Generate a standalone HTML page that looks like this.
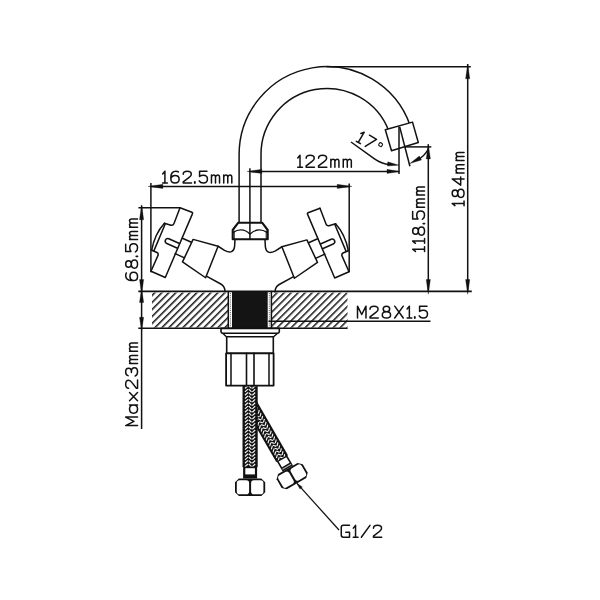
<!DOCTYPE html>
<html><head><meta charset="utf-8"><title>Faucet dimensions</title>
<style>
html,body{margin:0;padding:0;background:#fff;}
svg{display:block}
text{font-family:"Liberation Sans",sans-serif;fill:#161616;}
</style></head>
<body>
<svg width="600" height="600" viewBox="0 0 600 600">
<defs>
<pattern id="hatchL" width="4.95" height="4.95" patternUnits="userSpaceOnUse" patternTransform="translate(5.44,0) rotate(45)">
<rect x="0" y="0" width="1.5" height="4.95" fill="#111"/>
</pattern>
<pattern id="hatchR" width="4.95" height="4.95" patternUnits="userSpaceOnUse" patternTransform="translate(1.69,0) rotate(45)">
<rect x="0" y="0" width="1.5" height="4.95" fill="#111"/>
</pattern>
<pattern id="braid" width="14.6" height="2.5" patternUnits="userSpaceOnUse" patternTransform="translate(-7.3,0.6)">
<rect x="0" y="0" width="14.6" height="2.5" fill="#151515"/>
<path d="M2.2,2.9 L5.2,0.5 M2.2,5.4 L5.2,3.0 M2.2,0.4 L5.2,-2 M5.9,0.5 L8.7,2.9 M5.9,-2 L8.7,0.4 M5.9,3 L8.7,5.4 M9.4,2.9 L12.4,0.5 M9.4,5.4 L12.4,3 M9.4,0.4 L12.4,-2" stroke="#ececec" stroke-width="1.0" stroke-linecap="butt" fill="none"/>
</pattern>
<pattern id="braid2" width="13" height="2.5" patternUnits="userSpaceOnUse" patternTransform="translate(-6.5,0)">
<rect x="0" y="0" width="13" height="2.5" fill="#151515"/>
<path d="M1.9,2.9 L4.6,0.5 M1.9,5.4 L4.6,3.0 M1.9,0.4 L4.6,-2 M5.2,0.5 L7.8,2.9 M5.2,-2 L7.8,0.4 M5.2,3 L7.8,5.4 M8.4,2.9 L11.1,0.5 M8.4,5.4 L11.1,3 M8.4,0.4 L11.1,-2" stroke="#ececec" stroke-width="1.0" stroke-linecap="butt" fill="none"/>
</pattern>
<g id="hoseend">
<rect x="-7" y="0" width="14" height="11.8" fill="#111"/>
<rect x="-4.8" y="1.5" width="9.6" height="6.2" fill="#fff"/>
<use href="#hnut"/>
</g>
<g id="hoseend2">
<rect x="-6" y="0" width="12" height="11.8" fill="#111"/>
<rect x="-4.4" y="1.2" width="8.8" height="6.6" fill="#fff"/>
<rect x="-5" y="9.3" width="10" height="0.9" fill="#bbb"/>
<use href="#hnut"/>
</g>
<g id="hnut">
<path d="M-11.2,11.8 H11.2 L15.1,15.6 V25.5 L11.2,29.3 H-11.2 L-15.1,25.5 V15.6 Z" fill="#111"/>
<rect x="-13.3" y="13.6" width="12.3" height="13.9" rx="2.8" ry="2.8" fill="#fff"/>
<rect x="1" y="13.6" width="12.3" height="13.9" rx="2.8" ry="2.8" fill="#fff"/>
</g>

<g id="lefthalf" fill="none" stroke="#111111" stroke-width="1.5" stroke-linejoin="round" stroke-linecap="round"><path d="M180,207.75 L191.9,212.3 Q193,212.8 192.4,213.9 L165.3,277.5 L151,271.2 L158,255.4 Q158.7,253.4 157,252.5 L151.7,250.2" />
<path d="M180,207.75 L174,223.4 Q173.2,225.7 171,225.3 L164.4,223.3" />
<path d="M164.4,223.3 Q154.7,234 151.7,250.2" />
<path d="M165.2,224 L153.9,250.9" />
<path d="M179.5,243.5 L168.8,238.8 A2.55,2.55 0 0 0 166.8,243.5 L177.5,248.2" />
<path d="M182.4,238.2 L191.4,242.2 M175.2,253.6 L184.4,257.9" />
<path d="M193.1,239.4 L218.1,246.25 L205.6,277.75 L182.5,261.9 Z" />
<path d="M218.1,246.25 L224.5,250.3 Q233.6,254.8 234.6,246.5 L235,239.4" />
<path d="M206.4,276.2 L220.8,284 Q225,286.5 225,291.5" /></g>
</defs>
<rect x="0" y="0" width="600" height="600" fill="#fff"/>
<rect x="152" y="292.6" width="76.3" height="35" fill="url(#hatchL)"/>
<rect x="271.5" y="292.6" width="76" height="35" fill="url(#hatchR)"/>
<g transform="translate(281.9,458.3) rotate(-30)">
<rect x="-6.8" y="-63" width="13.6" height="63.4" fill="#121212"/>
<clipPath id="cp136"><rect x="-5" y="-63" width="10" height="63.4"/></clipPath>
<path clip-path="url(#cp136)" d="M-4.70,-60.65 L-1.95,-63.35 M-1.20,-63.35 L1.20,-60.65 M1.95,-60.65 L4.60,-63.35 M-4.70,-57.25 L-1.95,-59.95 M-1.20,-59.95 L1.20,-57.25 M1.95,-57.25 L4.60,-59.95 M-4.70,-53.85 L-1.95,-56.55 M-1.20,-56.55 L1.20,-53.85 M1.95,-53.85 L4.60,-56.55 M-4.70,-50.45 L-1.95,-53.15 M-1.20,-53.15 L1.20,-50.45 M1.95,-50.45 L4.60,-53.15 M-4.70,-47.05 L-1.95,-49.75 M-1.20,-49.75 L1.20,-47.05 M1.95,-47.05 L4.60,-49.75 M-4.70,-43.65 L-1.95,-46.35 M-1.20,-46.35 L1.20,-43.65 M1.95,-43.65 L4.60,-46.35 M-4.70,-40.25 L-1.95,-42.95 M-1.20,-42.95 L1.20,-40.25 M1.95,-40.25 L4.60,-42.95 M-4.70,-36.85 L-1.95,-39.55 M-1.20,-39.55 L1.20,-36.85 M1.95,-36.85 L4.60,-39.55 M-4.70,-33.45 L-1.95,-36.15 M-1.20,-36.15 L1.20,-33.45 M1.95,-33.45 L4.60,-36.15 M-4.70,-30.05 L-1.95,-32.75 M-1.20,-32.75 L1.20,-30.05 M1.95,-30.05 L4.60,-32.75 M-4.70,-26.65 L-1.95,-29.35 M-1.20,-29.35 L1.20,-26.65 M1.95,-26.65 L4.60,-29.35 M-4.70,-23.25 L-1.95,-25.95 M-1.20,-25.95 L1.20,-23.25 M1.95,-23.25 L4.60,-25.95 M-4.70,-19.85 L-1.95,-22.55 M-1.20,-22.55 L1.20,-19.85 M1.95,-19.85 L4.60,-22.55 M-4.70,-16.45 L-1.95,-19.15 M-1.20,-19.15 L1.20,-16.45 M1.95,-16.45 L4.60,-19.15 M-4.70,-13.05 L-1.95,-15.75 M-1.20,-15.75 L1.20,-13.05 M1.95,-13.05 L4.60,-15.75 M-4.70,-9.65 L-1.95,-12.35 M-1.20,-12.35 L1.20,-9.65 M1.95,-9.65 L4.60,-12.35 M-4.70,-6.25 L-1.95,-8.95 M-1.20,-8.95 L1.20,-6.25 M1.95,-6.25 L4.60,-8.95 M-4.70,-2.85 L-1.95,-5.55 M-1.20,-5.55 L1.20,-2.85 M1.95,-2.85 L4.60,-5.55 M-4.70,0.55 L-1.95,-2.15 M-1.20,-2.15 L1.20,0.55 M1.95,0.55 L4.60,-2.15" stroke="#f2f2f2" stroke-width="1.2" fill="none" stroke-linecap="butt"/>
<use href="#hoseend2"/>
</g>
<g transform="translate(250.1,466.7)">
<rect x="-7.6" y="-80.6" width="15.2" height="81" fill="#121212"/>
<clipPath id="cp152"><rect x="-5.8" y="-80.6" width="11.6" height="81"/></clipPath>
<path clip-path="url(#cp152)" d="M-5.20,-78.25 L-2.15,-80.95 M-1.30,-80.95 L1.40,-78.25 M2.25,-78.25 L5.10,-80.95 M-5.20,-74.85 L-2.15,-77.55 M-1.30,-77.55 L1.40,-74.85 M2.25,-74.85 L5.10,-77.55 M-5.20,-71.45 L-2.15,-74.15 M-1.30,-74.15 L1.40,-71.45 M2.25,-71.45 L5.10,-74.15 M-5.20,-68.05 L-2.15,-70.75 M-1.30,-70.75 L1.40,-68.05 M2.25,-68.05 L5.10,-70.75 M-5.20,-64.65 L-2.15,-67.35 M-1.30,-67.35 L1.40,-64.65 M2.25,-64.65 L5.10,-67.35 M-5.20,-61.25 L-2.15,-63.95 M-1.30,-63.95 L1.40,-61.25 M2.25,-61.25 L5.10,-63.95 M-5.20,-57.85 L-2.15,-60.55 M-1.30,-60.55 L1.40,-57.85 M2.25,-57.85 L5.10,-60.55 M-5.20,-54.45 L-2.15,-57.15 M-1.30,-57.15 L1.40,-54.45 M2.25,-54.45 L5.10,-57.15 M-5.20,-51.05 L-2.15,-53.75 M-1.30,-53.75 L1.40,-51.05 M2.25,-51.05 L5.10,-53.75 M-5.20,-47.65 L-2.15,-50.35 M-1.30,-50.35 L1.40,-47.65 M2.25,-47.65 L5.10,-50.35 M-5.20,-44.25 L-2.15,-46.95 M-1.30,-46.95 L1.40,-44.25 M2.25,-44.25 L5.10,-46.95 M-5.20,-40.85 L-2.15,-43.55 M-1.30,-43.55 L1.40,-40.85 M2.25,-40.85 L5.10,-43.55 M-5.20,-37.45 L-2.15,-40.15 M-1.30,-40.15 L1.40,-37.45 M2.25,-37.45 L5.10,-40.15 M-5.20,-34.05 L-2.15,-36.75 M-1.30,-36.75 L1.40,-34.05 M2.25,-34.05 L5.10,-36.75 M-5.20,-30.65 L-2.15,-33.35 M-1.30,-33.35 L1.40,-30.65 M2.25,-30.65 L5.10,-33.35 M-5.20,-27.25 L-2.15,-29.95 M-1.30,-29.95 L1.40,-27.25 M2.25,-27.25 L5.10,-29.95 M-5.20,-23.85 L-2.15,-26.55 M-1.30,-26.55 L1.40,-23.85 M2.25,-23.85 L5.10,-26.55 M-5.20,-20.45 L-2.15,-23.15 M-1.30,-23.15 L1.40,-20.45 M2.25,-20.45 L5.10,-23.15 M-5.20,-17.05 L-2.15,-19.75 M-1.30,-19.75 L1.40,-17.05 M2.25,-17.05 L5.10,-19.75 M-5.20,-13.65 L-2.15,-16.35 M-1.30,-16.35 L1.40,-13.65 M2.25,-13.65 L5.10,-16.35 M-5.20,-10.25 L-2.15,-12.95 M-1.30,-12.95 L1.40,-10.25 M2.25,-10.25 L5.10,-12.95 M-5.20,-6.85 L-2.15,-9.55 M-1.30,-9.55 L1.40,-6.85 M2.25,-6.85 L5.10,-9.55 M-5.20,-3.45 L-2.15,-6.15 M-1.30,-6.15 L1.40,-3.45 M2.25,-3.45 L5.10,-6.15 M-5.20,-0.05 L-2.15,-2.75 M-1.30,-2.75 L1.40,-0.05 M2.25,-0.05 L5.10,-2.75" stroke="#f2f2f2" stroke-width="1.2" fill="none" stroke-linecap="butt"/>
<use href="#hoseend"/>
</g>
<g fill="none" stroke="#111111" stroke-width="1.5" stroke-linejoin="round" stroke-linecap="round">
<use href="#lefthalf"/>
<use href="#lefthalf" transform="translate(500.0,0.5) scale(-1,1)"/>
<path d="M239.10,222.5 V154.60 A88,88 0 0 1 410.05,125.22"/>
<path d="M261.00,222.5 V154.60 A66.1,66.1 0 0 1 388.81,130.91"/>
<path d="M385.3,129.7 L412.5,122.1 L418.3,142.5 L391.5,150.7 Z" fill="#fff"/>
<path d="M232.7,239.2 V230 L238.3,222.7 H262.1 L267.7,230 V239.2 Z" stroke-width="2.1"/>
<path d="M233.5,232.3 C237.5,229.3 244.5,228.3 249.8,234 M266.7,232.3 C262.7,229.3 255.7,228.3 250.2,234" stroke-width="1.3"/>
<path d="M234.2,231 V239 M266.2,231 V239" stroke-width="1"/>
<path d="M221,328.4 H279.3 V331.6 Q279.2,333.2 277.3,333.2 H223 Q221.1,333.2 221,331.6 Z" stroke-width="1.6" fill="#fff"/>
<path d="M223,333.4 L226.4,336.7 H273.6 L277.3,333.4" stroke-width="1.4"/>
<rect x="226.7" y="336.7" width="46.6" height="16.7" stroke-width="1.6" fill="#fff"/>
<rect x="226.1" y="353.4" width="47.5" height="32.2" stroke-width="1.8" fill="#fff"/>
<path d="M231,353.4 V385.6 M269,353.4 V385.6" stroke-width="1.5"/><path d="M246.5,353.4 V385.6 M254,353.4 V385.6" stroke-width="1.6"/>
<path d="M228.3,291.5 V328.3 M271.4,291.5 V328.3" stroke-width="1.5"/>
</g>
<rect x="232" y="291.5" width="35.7" height="36.8" fill="#141414"/>
<path d="M230.4,293 V327.5 M269.3,293 V327.5" stroke="#555" stroke-width="1.0" stroke-dasharray="0.9,1.0" fill="none"/>
<g fill="none" stroke="#111111" stroke-width="1.5" stroke-linecap="butt">
<path d="M326.5,66.8 H470.8"/>
<path d="M467.7,64 V291.5"/>
<path d="M428.3,144.3 V291.5"/>
<path d="M404.7,146.9 H431.3"/>
<path d="M138.3,291.4 H471.8" stroke-width="1.6"/>
<path d="M138.3,328.3 H347.6" stroke-width="1.6"/>
<path d="M141.6,205.5 V429"/>
<path d="M138.4,207.7 H180"/>
<path d="M150.9,183 V272.3"/>
<path d="M150.9,186.4 H349.2"/>
<path d="M349.2,183.5 V272.3"/>
<path d="M249.6,171.4 H399.2"/>
<path d="M249.9,168.3 V239.4"/>
<path d="M399,126.5 V174" stroke-width="1.5"/>
<path d="M399.7,126.9 L409.9,166.2"/>
<path d="M268.5,321.3 H430.5"/>
<path d="M351,142 L374.5,158.8 Q381.5,163.8 389.5,164.6"/>
<path d="M418,159.6 Q424.6,156 428.3,149"/>
<path d="M297,483.4 L339,530" stroke-width="1.25"/>
</g>
<polygon points="467.70,64.00 469.80,78.80 465.60,78.80" fill="#111111" stroke="#111111" stroke-width="0.3"/>
<polygon points="467.70,294.30 465.60,279.50 469.80,279.50" fill="#111111" stroke="#111111" stroke-width="0.3"/>
<polygon points="428.30,144.10 430.40,158.90 426.20,158.90" fill="#111111" stroke="#111111" stroke-width="0.3"/>
<polygon points="428.30,294.30 426.20,279.50 430.40,279.50" fill="#111111" stroke="#111111" stroke-width="0.3"/>
<polygon points="141.60,204.90 143.70,219.70 139.50,219.70" fill="#111111" stroke="#111111" stroke-width="0.3"/>
<polygon points="141.60,294.30 139.50,279.50 143.70,279.50" fill="#111111" stroke="#111111" stroke-width="0.3"/>
<polygon points="141.60,288.70 143.70,302.50 139.50,302.50" fill="#111111" stroke="#111111" stroke-width="0.3"/>
<polygon points="141.60,331.10 139.50,317.30 143.70,317.30" fill="#111111" stroke="#111111" stroke-width="0.3"/>
<polygon points="148.10,186.40 162.90,184.30 162.90,188.50" fill="#111111" stroke="#111111" stroke-width="0.3"/>
<polygon points="352.00,186.40 337.20,188.50 337.20,184.30" fill="#111111" stroke="#111111" stroke-width="0.3"/>
<polygon points="247.10,171.40 261.90,169.30 261.90,173.50" fill="#111111" stroke="#111111" stroke-width="0.3"/>
<polygon points="399.50,171.40 387.00,173.50 387.00,169.30" fill="#111111" stroke="#111111" stroke-width="0.3"/>
<polygon points="399.00,165.15 387.34,166.04 387.78,161.86" fill="#111111" stroke="#111111" stroke-width="0.3"/>
<polygon points="409.80,163.60 419.36,156.02 421.43,159.91" fill="#111111" stroke="#111111" stroke-width="0.3"/>
<polygon points="296.80,483.20 302.34,486.96 299.96,489.10" fill="#111111" stroke="#111111" stroke-width="0.3"/>
<g transform="translate(161.9,183.8) rotate(0)" fill="none" stroke="#111111" stroke-width="1.5" stroke-linecap="round" stroke-linejoin="round">
<path transform="translate(0.75,-12.63) scale(0.985,0.99)" vector-effect="non-scaling-stroke" stroke-width="1.5" d="M0,2.8 L2.3,0 V12 M0,12 H4.8"/>
<path transform="translate(8.97,-12.63) scale(0.985,0.99)" vector-effect="non-scaling-stroke" stroke-width="1.5" d="M7.7,0.7 C6.9,0.2 6.1,0 5.1,0 C2,0 0,2.5 0,6.5 V8 C0,10.4 1.7,12 4.2,12 C6.7,12 8.4,10.4 8.4,8 C8.4,5.7 6.7,4.3 4.2,4.3 C2,4.3 0.4,5.6 0,7.5"/>
<path transform="translate(21.24,-12.63) scale(0.985,0.99)" vector-effect="non-scaling-stroke" stroke-width="1.5" d="M0.1,3 C0.1,1 1.6,0 4.2,0 C6.8,0 8.3,1 8.3,3 C8.3,4.4 7.6,5.2 6.1,6.2 L0.1,10.8 V12 H8.5"/>
<path transform="translate(33.52,-12.63) scale(0.985,0.99)" vector-effect="non-scaling-stroke" stroke-width="1.9" d="M-0.6,10.8 V11.9"/>
<path transform="translate(37.28,-12.63) scale(0.985,0.99)" vector-effect="non-scaling-stroke" stroke-width="1.5" d="M7.9,0 H0.4 V5.3 C1.6,4.4 2.9,4.1 4.2,4.1 C6.8,4.1 8.4,5.7 8.4,8 C8.4,10.4 6.8,12 4.2,12 C2.2,12 0.7,11.2 0,9.8"/>
<path transform="translate(49.56,-12.63) scale(0.985,0.99)" vector-effect="non-scaling-stroke" stroke-width="1.5" d="M0,12 V3.9 M0,6 C0.3,4.6 1.2,3.9 2.25,3.9 C3.4,3.9 4.1,4.7 4.1,6.1 V12 M4.1,6.1 C4.4,4.6 5.3,3.9 6.35,3.9 C7.5,3.9 8.2,4.7 8.2,6.1 V12"/>
<path transform="translate(61.83,-12.63) scale(0.985,0.99)" vector-effect="non-scaling-stroke" stroke-width="1.5" d="M0,12 V3.9 M0,6 C0.3,4.6 1.2,3.9 2.25,3.9 C3.4,3.9 4.1,4.7 4.1,6.1 V12 M4.1,6.1 C4.4,4.6 5.3,3.9 6.35,3.9 C7.5,3.9 8.2,4.7 8.2,6.1 V12"/>
</g>
<g transform="translate(297,167.9) rotate(0)" fill="none" stroke="#111111" stroke-width="1.5" stroke-linecap="round" stroke-linejoin="round">
<path transform="translate(0.75,-12.63) scale(0.985,0.99)" vector-effect="non-scaling-stroke" stroke-width="1.5" d="M0,2.8 L2.3,0 V12 M0,12 H4.8"/>
<path transform="translate(9.05,-12.63) scale(0.985,0.99)" vector-effect="non-scaling-stroke" stroke-width="1.5" d="M0.1,3 C0.1,1 1.6,0 4.2,0 C6.8,0 8.3,1 8.3,3 C8.3,4.4 7.6,5.2 6.1,6.2 L0.1,10.8 V12 H8.5"/>
<path transform="translate(21.45,-12.63) scale(0.985,0.99)" vector-effect="non-scaling-stroke" stroke-width="1.5" d="M0.1,3 C0.1,1 1.6,0 4.2,0 C6.8,0 8.3,1 8.3,3 C8.3,4.4 7.6,5.2 6.1,6.2 L0.1,10.8 V12 H8.5"/>
<path transform="translate(33.85,-12.63) scale(0.985,0.99)" vector-effect="non-scaling-stroke" stroke-width="1.5" d="M0,12 V3.9 M0,6 C0.3,4.6 1.2,3.9 2.25,3.9 C3.4,3.9 4.1,4.7 4.1,6.1 V12 M4.1,6.1 C4.4,4.6 5.3,3.9 6.35,3.9 C7.5,3.9 8.2,4.7 8.2,6.1 V12"/>
<path transform="translate(46.25,-12.63) scale(0.985,0.99)" vector-effect="non-scaling-stroke" stroke-width="1.5" d="M0,12 V3.9 M0,6 C0.3,4.6 1.2,3.9 2.25,3.9 C3.4,3.9 4.1,4.7 4.1,6.1 V12 M4.1,6.1 C4.4,4.6 5.3,3.9 6.35,3.9 C7.5,3.9 8.2,4.7 8.2,6.1 V12"/>
</g>
<g transform="translate(356.75,318.8) rotate(0)" fill="none" stroke="#111111" stroke-width="1.5" stroke-linecap="round" stroke-linejoin="round">
<path transform="translate(0.75,-12.63) scale(0.985,0.99)" vector-effect="non-scaling-stroke" stroke-width="1.5" d="M0,12 V0 L4.3,8.4 L8.6,0 V12"/>
<path transform="translate(13.15,-12.63) scale(0.985,0.99)" vector-effect="non-scaling-stroke" stroke-width="1.5" d="M0.1,3 C0.1,1 1.6,0 4.2,0 C6.8,0 8.3,1 8.3,3 C8.3,4.4 7.6,5.2 6.1,6.2 L0.1,10.8 V12 H8.5"/>
<path transform="translate(25.55,-12.63) scale(0.985,0.99)" vector-effect="non-scaling-stroke" stroke-width="1.5" d="M4.2,0 C6.2,0 7.5,1.2 7.5,2.9 C7.5,4.6 6.2,5.7 4.2,5.7 C2.2,5.7 0.9,4.6 0.9,2.9 C0.9,1.2 2.2,0 4.2,0 Z M4.2,5.7 C6.8,5.7 8.4,6.9 8.4,8.9 C8.4,10.8 6.8,12 4.2,12 C1.6,12 0,10.8 0,8.9 C0,6.9 1.6,5.7 4.2,5.7 Z"/>
<path transform="translate(37.95,-12.63) scale(0.985,0.99)" vector-effect="non-scaling-stroke" stroke-width="1.5" d="M0,0 L8.7,12 M8.7,0 L0,12"/>
<path transform="translate(50.35,-12.63) scale(0.985,0.99)" vector-effect="non-scaling-stroke" stroke-width="1.5" d="M0,2.8 L2.3,0 V12 M0,12 H4.8"/>
<path transform="translate(58.65,-12.63) scale(0.985,0.99)" vector-effect="non-scaling-stroke" stroke-width="1.9" d="M-0.6,10.8 V11.9"/>
<path transform="translate(62.45,-12.63) scale(0.985,0.99)" vector-effect="non-scaling-stroke" stroke-width="1.5" d="M7.9,0 H0.4 V5.3 C1.6,4.4 2.9,4.1 4.2,4.1 C6.8,4.1 8.4,5.7 8.4,8 C8.4,10.4 6.8,12 4.2,12 C2.2,12 0.7,11.2 0,9.8"/>
</g>
<g transform="translate(340.5,538) rotate(0)" fill="none" stroke="#111111" stroke-width="1.5" stroke-linecap="round" stroke-linejoin="round">
<path transform="translate(0.75,-12.63) scale(0.985,0.99)" vector-effect="non-scaling-stroke" stroke-width="1.5" d="M8.4,0 H2.2 Q0,0 0,2.2 V9.8 Q0,12 2.2,12 H8.4 V7 H4.6"/>
<path transform="translate(12.78,-12.63) scale(0.985,0.99)" vector-effect="non-scaling-stroke" stroke-width="1.5" d="M0,2.8 L2.3,0 V12 M0,12 H4.8"/>
<path transform="translate(20.83,-12.63) scale(0.985,0.99)" vector-effect="non-scaling-stroke" stroke-width="1.5" d="M0,12 L8.8,0"/>
<path transform="translate(32.86,-12.63) scale(0.985,0.99)" vector-effect="non-scaling-stroke" stroke-width="1.5" d="M0.1,3 C0.1,1 1.6,0 4.2,0 C6.8,0 8.3,1 8.3,3 C8.3,4.4 7.6,5.2 6.1,6.2 L0.1,10.8 V12 H8.5"/>
</g>
<g transform="translate(138.3,281.3) rotate(-90)" fill="none" stroke="#111111" stroke-width="1.5" stroke-linecap="round" stroke-linejoin="round">
<path transform="translate(0.75,-12.63) scale(0.985,0.99)" vector-effect="non-scaling-stroke" stroke-width="1.5" d="M7.7,0.7 C6.9,0.2 6.1,0 5.1,0 C2,0 0,2.5 0,6.5 V8 C0,10.4 1.7,12 4.2,12 C6.7,12 8.4,10.4 8.4,8 C8.4,5.7 6.7,4.3 4.2,4.3 C2,4.3 0.4,5.6 0,7.5"/>
<path transform="translate(13.15,-12.63) scale(0.985,0.99)" vector-effect="non-scaling-stroke" stroke-width="1.5" d="M4.2,0 C6.2,0 7.5,1.2 7.5,2.9 C7.5,4.6 6.2,5.7 4.2,5.7 C2.2,5.7 0.9,4.6 0.9,2.9 C0.9,1.2 2.2,0 4.2,0 Z M4.2,5.7 C6.8,5.7 8.4,6.9 8.4,8.9 C8.4,10.8 6.8,12 4.2,12 C1.6,12 0,10.8 0,8.9 C0,6.9 1.6,5.7 4.2,5.7 Z"/>
<path transform="translate(25.55,-12.63) scale(0.985,0.99)" vector-effect="non-scaling-stroke" stroke-width="1.9" d="M-0.6,10.8 V11.9"/>
<path transform="translate(29.35,-12.63) scale(0.985,0.99)" vector-effect="non-scaling-stroke" stroke-width="1.5" d="M7.9,0 H0.4 V5.3 C1.6,4.4 2.9,4.1 4.2,4.1 C6.8,4.1 8.4,5.7 8.4,8 C8.4,10.4 6.8,12 4.2,12 C2.2,12 0.7,11.2 0,9.8"/>
<path transform="translate(41.75,-12.63) scale(0.985,0.99)" vector-effect="non-scaling-stroke" stroke-width="1.5" d="M0,12 V3.9 M0,6 C0.3,4.6 1.2,3.9 2.25,3.9 C3.4,3.9 4.1,4.7 4.1,6.1 V12 M4.1,6.1 C4.4,4.6 5.3,3.9 6.35,3.9 C7.5,3.9 8.2,4.7 8.2,6.1 V12"/>
<path transform="translate(54.15,-12.63) scale(0.985,0.99)" vector-effect="non-scaling-stroke" stroke-width="1.5" d="M0,12 V3.9 M0,6 C0.3,4.6 1.2,3.9 2.25,3.9 C3.4,3.9 4.1,4.7 4.1,6.1 V12 M4.1,6.1 C4.4,4.6 5.3,3.9 6.35,3.9 C7.5,3.9 8.2,4.7 8.2,6.1 V12"/>
</g>
<g transform="translate(138.3,426.3) rotate(-90)" fill="none" stroke="#111111" stroke-width="1.5" stroke-linecap="round" stroke-linejoin="round">
<path transform="translate(0.75,-12.63) scale(0.985,0.99)" vector-effect="non-scaling-stroke" stroke-width="1.5" d="M0,12 V0 L4.3,8.4 L8.6,0 V12"/>
<path transform="translate(13.15,-12.63) scale(0.985,0.99)" vector-effect="non-scaling-stroke" stroke-width="1.5" d="M8.3,3.9 V12 M8.3,7.95 C8.3,5.5 6.7,3.9 4.2,3.9 C1.7,3.9 0,5.5 0,7.95 C0,10.4 1.7,12 4.2,12 C6.7,12 8.3,10.4 8.3,7.95"/>
<path transform="translate(25.55,-12.63) scale(0.985,0.99)" vector-effect="non-scaling-stroke" stroke-width="1.5" d="M0,3.9 L8.3,12 M8.3,3.9 L0,12"/>
<path transform="translate(37.95,-12.63) scale(0.985,0.99)" vector-effect="non-scaling-stroke" stroke-width="1.5" d="M0.1,3 C0.1,1 1.6,0 4.2,0 C6.8,0 8.3,1 8.3,3 C8.3,4.4 7.6,5.2 6.1,6.2 L0.1,10.8 V12 H8.5"/>
<path transform="translate(50.35,-12.63) scale(0.985,0.99)" vector-effect="non-scaling-stroke" stroke-width="1.5" d="M0.3,2.4 C0.8,0.8 2.2,0 4.1,0 C6.5,0 7.9,1.1 7.9,3 C7.9,4.8 6.5,5.8 4.3,5.8 H3.4 M4.3,5.8 C6.9,5.8 8.4,7 8.4,8.9 C8.4,10.9 6.7,12 4.2,12 C2,12 0.5,11.2 0,9.6"/>
<path transform="translate(62.75,-12.63) scale(0.985,0.99)" vector-effect="non-scaling-stroke" stroke-width="1.5" d="M0,12 V3.9 M0,6 C0.3,4.6 1.2,3.9 2.25,3.9 C3.4,3.9 4.1,4.7 4.1,6.1 V12 M4.1,6.1 C4.4,4.6 5.3,3.9 6.35,3.9 C7.5,3.9 8.2,4.7 8.2,6.1 V12"/>
<path transform="translate(75.15,-12.63) scale(0.985,0.99)" vector-effect="non-scaling-stroke" stroke-width="1.5" d="M0,12 V3.9 M0,6 C0.3,4.6 1.2,3.9 2.25,3.9 C3.4,3.9 4.1,4.7 4.1,6.1 V12 M4.1,6.1 C4.4,4.6 5.3,3.9 6.35,3.9 C7.5,3.9 8.2,4.7 8.2,6.1 V12"/>
</g>
<g transform="translate(425.3,252.2) rotate(-90)" fill="none" stroke="#111111" stroke-width="1.5" stroke-linecap="round" stroke-linejoin="round">
<path transform="translate(0.75,-12.63) scale(0.985,0.99)" vector-effect="non-scaling-stroke" stroke-width="1.5" d="M0,2.8 L2.3,0 V12 M0,12 H4.8"/>
<path transform="translate(8.88,-12.63) scale(0.985,0.99)" vector-effect="non-scaling-stroke" stroke-width="1.5" d="M0,2.8 L2.3,0 V12 M0,12 H4.8"/>
<path transform="translate(17.02,-12.63) scale(0.985,0.99)" vector-effect="non-scaling-stroke" stroke-width="1.5" d="M4.2,0 C6.2,0 7.5,1.2 7.5,2.9 C7.5,4.6 6.2,5.7 4.2,5.7 C2.2,5.7 0.9,4.6 0.9,2.9 C0.9,1.2 2.2,0 4.2,0 Z M4.2,5.7 C6.8,5.7 8.4,6.9 8.4,8.9 C8.4,10.8 6.8,12 4.2,12 C1.6,12 0,10.8 0,8.9 C0,6.9 1.6,5.7 4.2,5.7 Z"/>
<path transform="translate(29.17,-12.63) scale(0.985,0.99)" vector-effect="non-scaling-stroke" stroke-width="1.9" d="M-0.6,10.8 V11.9"/>
<path transform="translate(32.89,-12.63) scale(0.985,0.99)" vector-effect="non-scaling-stroke" stroke-width="1.5" d="M7.9,0 H0.4 V5.3 C1.6,4.4 2.9,4.1 4.2,4.1 C6.8,4.1 8.4,5.7 8.4,8 C8.4,10.4 6.8,12 4.2,12 C2.2,12 0.7,11.2 0,9.8"/>
<path transform="translate(45.05,-12.63) scale(0.985,0.99)" vector-effect="non-scaling-stroke" stroke-width="1.5" d="M0,12 V3.9 M0,6 C0.3,4.6 1.2,3.9 2.25,3.9 C3.4,3.9 4.1,4.7 4.1,6.1 V12 M4.1,6.1 C4.4,4.6 5.3,3.9 6.35,3.9 C7.5,3.9 8.2,4.7 8.2,6.1 V12"/>
<path transform="translate(57.20,-12.63) scale(0.985,0.99)" vector-effect="non-scaling-stroke" stroke-width="1.5" d="M0,12 V3.9 M0,6 C0.3,4.6 1.2,3.9 2.25,3.9 C3.4,3.9 4.1,4.7 4.1,6.1 V12 M4.1,6.1 C4.4,4.6 5.3,3.9 6.35,3.9 C7.5,3.9 8.2,4.7 8.2,6.1 V12"/>
</g>
<g transform="translate(464.8,206.4) rotate(-90)" fill="none" stroke="#111111" stroke-width="1.5" stroke-linecap="round" stroke-linejoin="round">
<path transform="translate(0.75,-12.63) scale(0.985,0.99)" vector-effect="non-scaling-stroke" stroke-width="1.5" d="M0,2.8 L2.3,0 V12 M0,12 H4.8"/>
<path transform="translate(8.97,-12.63) scale(0.985,0.99)" vector-effect="non-scaling-stroke" stroke-width="1.5" d="M4.2,0 C6.2,0 7.5,1.2 7.5,2.9 C7.5,4.6 6.2,5.7 4.2,5.7 C2.2,5.7 0.9,4.6 0.9,2.9 C0.9,1.2 2.2,0 4.2,0 Z M4.2,5.7 C6.8,5.7 8.4,6.9 8.4,8.9 C8.4,10.8 6.8,12 4.2,12 C1.6,12 0,10.8 0,8.9 C0,6.9 1.6,5.7 4.2,5.7 Z"/>
<path transform="translate(21.24,-12.63) scale(0.985,0.99)" vector-effect="non-scaling-stroke" stroke-width="1.5" d="M6.3,12 V0 L0,8.6 H8.4"/>
<path transform="translate(33.52,-12.63) scale(0.985,0.99)" vector-effect="non-scaling-stroke" stroke-width="1.5" d="M0,12 V3.9 M0,6 C0.3,4.6 1.2,3.9 2.25,3.9 C3.4,3.9 4.1,4.7 4.1,6.1 V12 M4.1,6.1 C4.4,4.6 5.3,3.9 6.35,3.9 C7.5,3.9 8.2,4.7 8.2,6.1 V12"/>
<path transform="translate(45.80,-12.63) scale(0.985,0.99)" vector-effect="non-scaling-stroke" stroke-width="1.5" d="M0,12 V3.9 M0,6 C0.3,4.6 1.2,3.9 2.25,3.9 C3.4,3.9 4.1,4.7 4.1,6.1 V12 M4.1,6.1 C4.4,4.6 5.3,3.9 6.35,3.9 C7.5,3.9 8.2,4.7 8.2,6.1 V12"/>
</g>
<g transform="translate(355.3,141.6) rotate(30)" fill="none" stroke="#111111" stroke-width="1.5" stroke-linecap="round" stroke-linejoin="round">
<path transform="translate(0.75,-12.63) scale(0.985,0.99)" vector-effect="non-scaling-stroke" stroke-width="1.5" d="M0,2.8 L2.3,0 V12 M0,12 H4.8"/>
<path transform="translate(9.05,-12.63) scale(0.985,0.99)" vector-effect="non-scaling-stroke" stroke-width="1.5" d="M0,0 H8.3 L2,12"/>
</g>
<rect x="-1.7" y="-1.7" width="3.4" height="3.4" rx="1.1" ry="1.1" transform="translate(380.6,144.6) rotate(30)" fill="none" stroke="#111111" stroke-width="1.1"/>
</svg>
</body></html>
